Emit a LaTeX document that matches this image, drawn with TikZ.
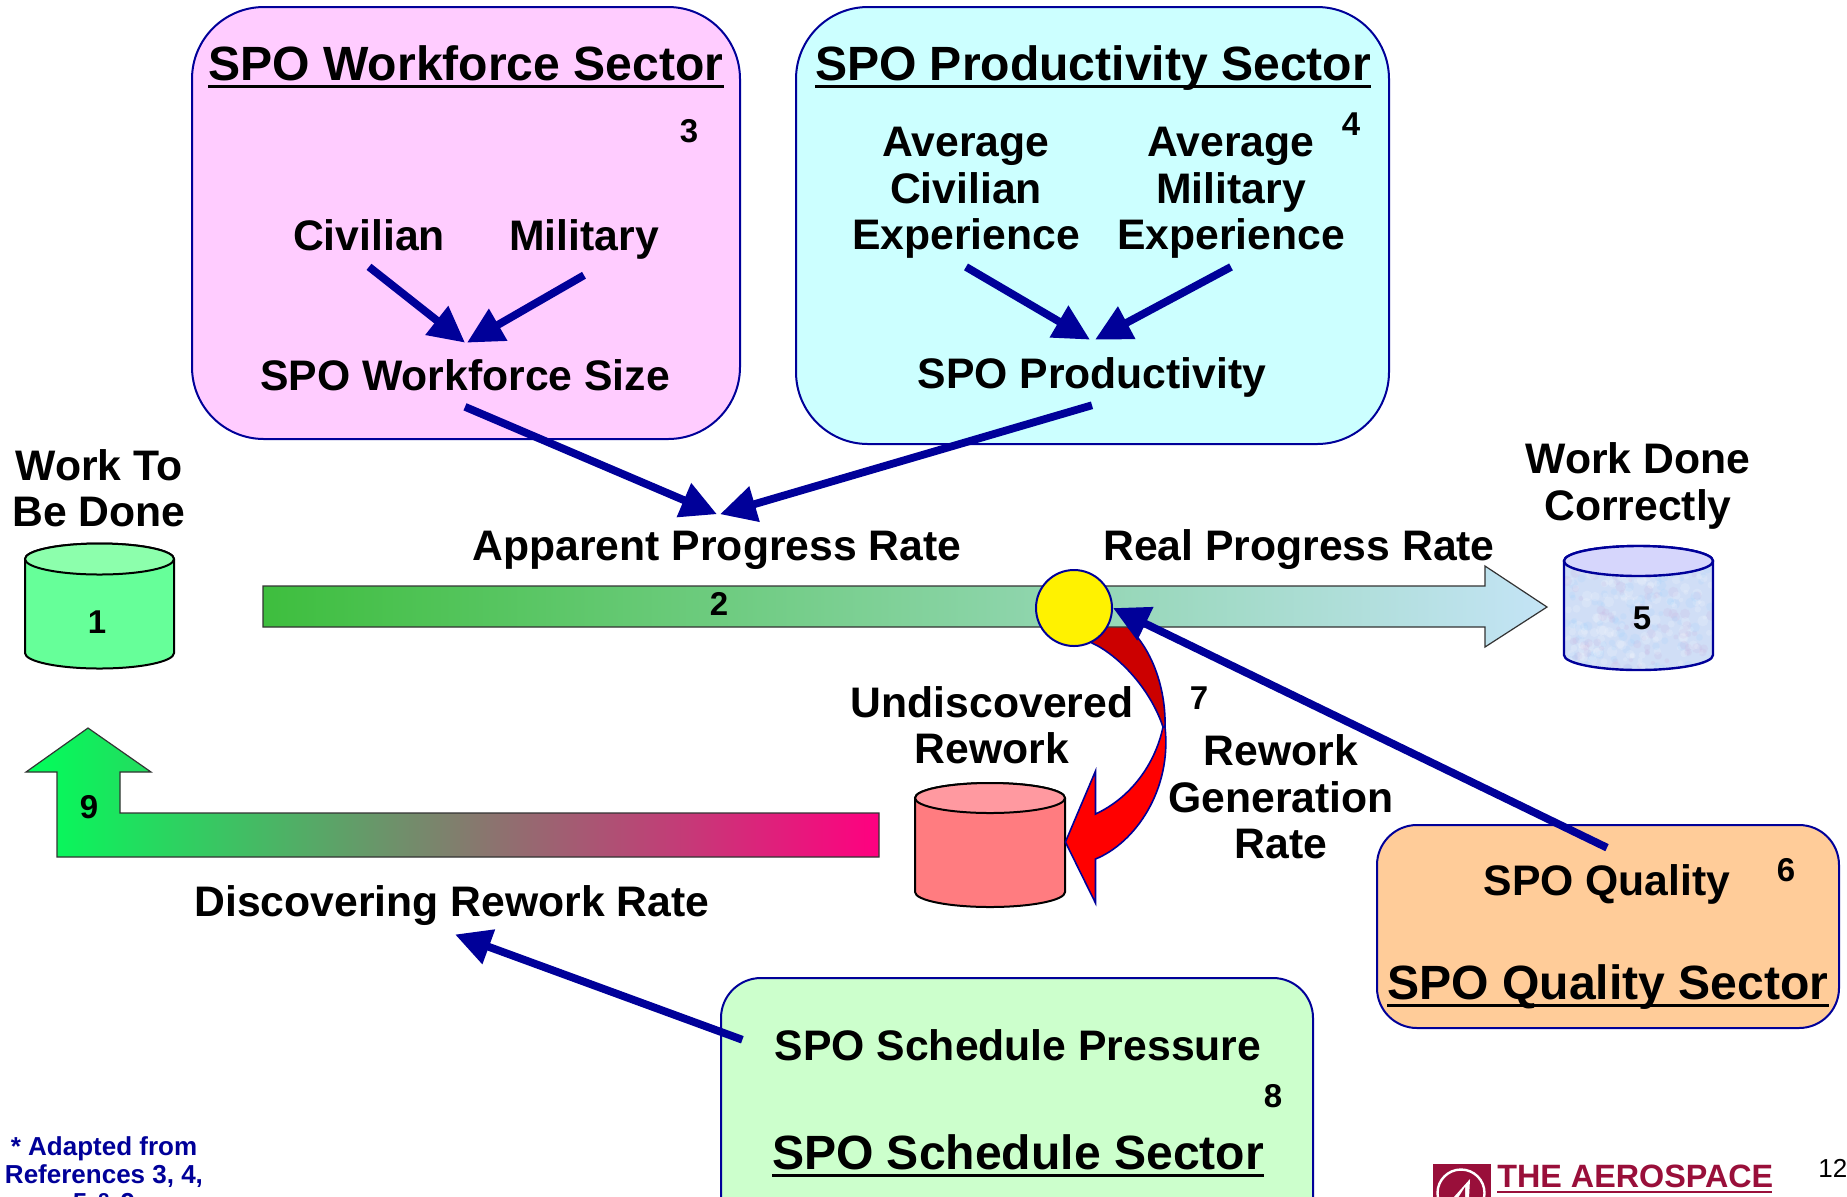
\documentclass[tikz,border=0pt]{standalone}
\usepackage{fontspec}
\setmainfont{Liberation Sans}
\usetikzlibrary{arrows.meta,calc}
\definecolor{navy}{HTML}{000099}
\definecolor{aero}{HTML}{990F3A}
\newcommand{\ulbox}[1]{\setbox0\hbox{#1}\rlap{\copy0}\rule[-4pt]{\wd0}{1.6pt}}
\newcommand{\cylpath}[5]{(#1-#4,#2) -- (#1-#4,#3) arc[start angle=180,end angle=360,x radius=#4,y radius=-#5] -- (#1+#4,#2) arc[start angle=0,end angle=180,x radius=#4,y radius=-#5] -- cycle}
\tikzset{
 sector/.style={draw=navy,line width=1pt},
 lbl/.style={font=\fontsize{21.35}{23.2}\selectfont\bfseries,align=center,inner xsep=0pt,inner ysep=8pt},
 lblt/.style={lbl,inner ysep=4pt},
 ttl/.style={font=\fontsize{24.05}{26}\selectfont\bfseries,inner sep=0pt,anchor=base},
 num/.style={font=\fontsize{16.5}{18}\selectfont\bfseries,inner sep=0pt},
 flow/.style={draw=navy,line width=3.9pt,-{Triangle[length=18pt,width=17.5pt]}},
 bigarrow/.style={draw=black!80,line width=0.6pt},
 curve/.style={draw=navy,line width=0.8pt},
 foot/.style={font=\fontsize{13}{14.2}\selectfont\bfseries,text=navy,inner sep=0pt,anchor=base},
}
\begin{document}
\begin{tikzpicture}[x=0.5pt,y=-0.5pt]
\useasboundingbox (0,0) rectangle (1847,1196);
\clip (0,0) rectangle (1847,1196);
\fill[white] (0,0) rectangle (1847,1196);
% sector boxes
\draw[sector,fill={rgb,255:red,255;green,204;blue,255},rounded corners=36pt] (192,7) rectangle (740,439);
\draw[sector,fill={rgb,255:red,204;green,255;blue,255},rounded corners=36pt] (796,7) rectangle (1389,444);
\draw[sector,fill={rgb,255:red,255;green,204;blue,153},rounded corners=20pt] (1377,825) rectangle (1839,1028);
\draw[sector,fill={rgb,255:red,204;green,255;blue,204},rounded corners=20pt] (721,978) rectangle (1313,1260);
% cylinder 1
\draw[black,line width=1pt,fill={rgb,255:red,102;green,255;blue,153}] \cylpath{99.5}{559}{653}{74.5}{15.5};
\draw[black,line width=1pt,fill={rgb,255:red,140;green,255;blue,172}] (99.5,559) ellipse[x radius=74.5,y radius=15.5];
% cylinder 5
\fill[fill={rgb,255:red,208;green,222;blue,246}] \cylpath{1638.5}{561}{655}{74.5}{15};
\begin{scope}
\clip \cylpath{1638.5}{561}{655}{74.5}{15};
\pgfmathsetseed{7}
\foreach \i in {1,...,320}{
 \pgfmathsetmacro{\cx}{1564+149*rnd}
 \pgfmathsetmacro{\cy}{560+110*rnd}
 \pgfmathsetmacro{\rr}{2+3.5*rnd}
 \pgfmathsetmacro{\pick}{rnd}
 \ifdim\pick pt<0.3pt\def\cc{blue!45!cyan!40}\else\ifdim\pick pt<0.55pt\def\cc{magenta!30!blue!30}\else\def\cc{white}\fi\fi
 \fill[\cc,opacity=0.16] (\cx,\cy) circle[radius=\rr];
}
\end{scope}
\draw[navy,line width=1.2pt] \cylpath{1638.5}{561}{655}{74.5}{15};
\draw[navy,line width=1.2pt,fill={rgb,255:red,214;green,214;blue,252}] (1638.5,561) ellipse[x radius=74.5,y radius=15];
% cylinder undiscovered rework
\draw[black,line width=1pt,fill={rgb,255:red,255;green,124;blue,128}] \cylpath{990}{798}{892}{75}{15};
\draw[black,line width=1pt,fill={rgb,255:red,255;green,153;blue,160}] (990,798) ellipse[x radius=75,y radius=15];
% curved arrow 7
\draw[curve,fill={rgb,255:red,204;green,0;blue,0}] (1075,630) -- (1092,643) .. controls (1118,655) and (1150,688) .. (1163,727) -- (1165,727) .. controls (1166,690) and (1153,650) .. (1128,627) -- (1110,612) -- cycle;
\draw[curve,fill=red] (1163,727) -- (1165,727) .. controls (1172,790) and (1135,843) .. (1095.5,859) -- (1095.5,903) -- (1065.4,842) -- (1095.5,771) -- (1095.5,814) .. controls (1130,798) and (1155,765) .. (1163,727) -- cycle;
% big arrow 2
\path[bigarrow,left color={rgb,255:red,62;green,190;blue,62},right color={rgb,255:red,196;green,228;blue,246}] (263,586) -- (1485,586) -- (1485,566) -- (1547,607) -- (1485,647) -- (1485,627) -- (263,627) -- cycle;
% big arrow 9
\path[bigarrow,left color={rgb,255:red,0;green,255;blue,90},right color={rgb,255:red,255;green,0;blue,128}] (879,813) -- (120,813) -- (120,772) -- (151,772) -- (88,728) -- (26,772) -- (57,772) -- (57,857) -- (879,857) -- cycle;
% junction
\node[circle,draw=navy,line width=1pt,fill=yellow,inner sep=0pt,minimum size=38pt] (junction) at (1074,608) {};
% titles
\node[ttl] (twf) at (466,80) {\ulbox{SPO Workforce Sector}};
\node[ttl] (tpr) at (1093,80) {\ulbox{SPO Productivity Sector}};
\node[ttl] (tql) at (1608,999) {\ulbox{SPO Quality Sector}};
\node[ttl] (tsc) at (1018,1169) {\ulbox{SPO Schedule Sector}};
% labels
\node[lbl,anchor=base] (civ) at (369,250) {Civilian};
\node[lbl,anchor=base] (mil) at (584,250) {Military};
\node[lbl,anchor=base] (wsize) at (465,390) {SPO Workforce Size};
\node[lblt] (acv) at (966,193) {Average\\Civilian\\Experience};
\node[lblt] (aml) at (1231,193) {Average\\Military\\Experience};
\node[lblt,anchor=base] (prod) at (1092,388) {SPO Productivity};
\node[lbl] (wtbd) at (99,488) {Work To\\Be Done};
\node[lbl,anchor=base] (app) at (717,560) {Apparent Progress Rate};
\node[lbl,anchor=base] (real) at (1299,560) {Real Progress Rate};
\node[lbl] (wdc) at (1638,486) {Work Done\\Correctly};
\node[lbl] (undisc) at (992,725) {Undiscovered\\Rework};
\node[lbl] (rgr) at (1281,797) {Rework\\Generation\\Rate};
\node[lbl,anchor=base] (squal) at (1607,895) {SPO Quality};
\node[lbl,anchor=base] (disc) at (452,916) {Discovering Rework Rate};
\node[lbl,anchor=base] (press) at (1018,1060) {SPO Schedule Pressure};
% numbers
\node[num] (n1) at (97,622) {1};
\node[num] (n2) at (719,604) {2};
\node[num] (n3) at (689,131) {3};
\node[num] (n4) at (1351,124) {4};
\node[num] (n5) at (1642,618) {5};
\node[num] (n6) at (1786,870) {6};
\node[num] (n7) at (1199,698) {7};
\node[num] (n8) at (1273,1096) {8};
\node[num] (n9) at (89,807) {9};
% connectors
\draw[flow] (civ.south) -- (wsize.north);
\draw[flow] (mil.south) -- ($(wsize.north)+(2,0)$);
\draw[flow] (acv.south) -- ($(prod.north)+(-2,-9)$);
\draw[flow] (aml.south) -- ($(prod.north)+(3,-9)$);
\draw[flow] (wsize.south) -- (app.north);
\draw[flow] (prod.south) -- ($(app.north)+(3,0)$);
\draw[flow] (squal.north) -- (junction.east);
\draw[flow] ($(press.west)+(-32,-5)$) -- ($(disc.south)+(3,-7)$);
% footnote
\node[foot] (f1) at (104,1155) {* Adapted from};
\node[foot] (f2) at (104,1183) {References 3, 4,};
\node[foot] (f3) at (104,1211) {5 \& 9};
% logo
\fill[aero] (1433,1164) rectangle (1491,1200);
\draw[white,line width=1.2pt] (1461,1193) circle[radius=23.5];
\fill[white] (1470,1179) -- (1469,1198) -- (1453,1198) -- cycle;
\fill[aero] (1465,1187) -- (1465,1198) -- (1458,1198) -- cycle;
\node[font=\fontsize{16.15}{18}\selectfont\bfseries,text=aero,inner sep=0pt,anchor=base west] (aerotxt) at (1497,1187) {THE AEROSPACE};
\fill[aero] (aerotxt.base west |- 0,1191) rectangle (1772,1193);
\node[font=\fontsize{13}{15}\selectfont,inner sep=0pt,anchor=base west] (pg) at (1818,1177) {12};
\end{tikzpicture}
\end{document}
